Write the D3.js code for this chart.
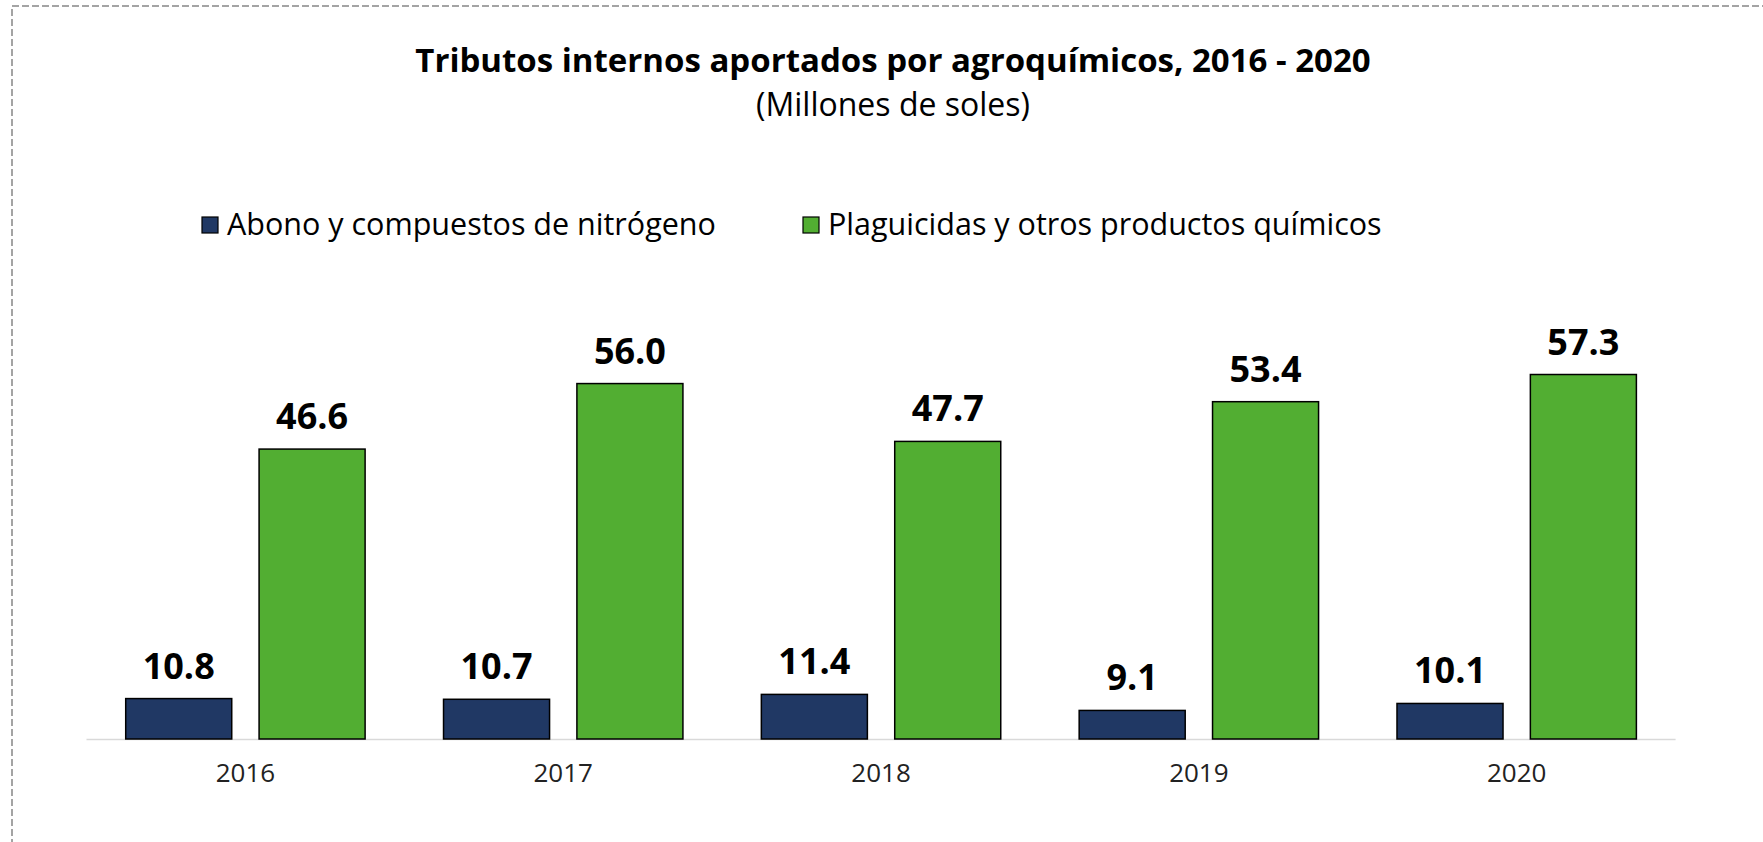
<!DOCTYPE html>
<html>
<head>
<meta charset="utf-8">
<script src="https://cdn.jsdelivr.net/npm/d3@7"></script>
<style>
  body { margin: 0; background: #fff; }
  text { font-family: "Open Sans", "Noto Sans", sans-serif; }
</style>
</head>
<body>
<script>
// data
var years = ["2016", "2017", "2018", "2019", "2020"];
var abono = [10.8, 10.7, 11.4, 9.1, 10.1];
var plaguicidas = [46.6, 56.0, 47.7, 53.4, 57.3];
var seriesNames = ["Abono y compuestos de nitrógeno", "Plaguicidas y otros productos químicos"];
var colors = ["#203864", "#52ae32"];

var width = 1763, height = 842;
var baseY = 739;

var svg = d3.select("body").append("svg")
  .attr("width", width)
  .attr("height", height);

// dashed frame (right and bottom edges fall outside the picture)
svg.append("rect")
  .attr("x", 12).attr("y", 6)
  .attr("width", 1770).attr("height", 860)
  .attr("fill", "none")
  .attr("stroke", "#868686")
  .attr("stroke-width", 1.5)
  .attr("stroke-dasharray", "7,3");

// title
svg.append("text")
  .attr("x", 893).attr("y", 72)
  .attr("text-anchor", "middle")
  .style("font-size", "33px")
  .style("font-weight", "bold")
  .text("Tributos internos aportados por agroquímicos, 2016 - 2020");

svg.append("text")
  .attr("x", 893).attr("y", 116)
  .attr("text-anchor", "middle")
  .style("font-size", "32px")
  .text("(Millones de soles)");

var data = years.map(function(y, i) {
  return {year: y, values: [abono[i], plaguicidas[i]]};
});

var x0 = d3.scaleBand().domain(years).range([86.5, 1675.6]);
var x1 = d3.scaleBand().domain([0, 1]).range([0, x0.bandwidth()])
  .paddingInner(0.205).paddingOuter(0.294);
var y = d3.scaleLinear().domain([5, 70]).range([baseY, 286]);

// legend
var legendX = [202, 803];
var legend = svg.selectAll(".legend")
  .data(seriesNames)
  .enter()
  .append("g")
  .attr("class", "legend")
  .attr("transform", function(d, i) { return "translate(" + legendX[i] + ",217)"; });

legend.append("rect")
  .attr("width", 16).attr("height", 16)
  .attr("fill", function(d, i) { return colors[i]; })
  .attr("stroke", "#000")
  .attr("stroke-width", 1.2);

legend.append("text")
  .attr("x", 25).attr("y", 18)
  .style("font-size", "30.5px")
  .text(function(d) { return d; });

// baseline
svg.append("line")
  .attr("x1", x0.range()[0]).attr("x2", x0.range()[1])
  .attr("y1", baseY + 0.5).attr("y2", baseY + 0.5)
  .attr("stroke", "#d9d9d9")
  .attr("stroke-width", 1.5);

var groups = svg.selectAll(".group")
  .data(data)
  .enter()
  .append("g")
  .attr("class", "group")
  .attr("transform", function(d) { return "translate(" + x0(d.year) + ",0)"; });

groups.selectAll("rect")
  .data(function(d) { return d.values; })
  .enter()
  .append("rect")
  .attr("x", function(d, i) { return x1(i); })
  .attr("y", function(d) { return y(d); })
  .attr("width", x1.bandwidth())
  .attr("height", function(d) { return baseY - y(d); })
  .attr("fill", function(d, i) { return colors[i]; })
  .attr("stroke", "#000")
  .attr("stroke-width", 1.5);

groups.selectAll(".val")
  .data(function(d) { return d.values; })
  .enter()
  .append("text")
  .attr("class", "val")
  .attr("x", function(d, i) { return x1(i) + x1.bandwidth() / 2; })
  .attr("y", function(d) { return y(d) - 20; })
  .attr("text-anchor", "middle")
  .style("font-size", "36px")
  .style("font-weight", "bold")
  .text(function(d) { return d3.format(".1f")(d); });

// year labels
svg.selectAll(".year")
  .data(years)
  .enter()
  .append("text")
  .attr("class", "year")
  .attr("x", function(d) { return x0(d) + x0.bandwidth() / 2; })
  .attr("y", 782)
  .attr("text-anchor", "middle")
  .style("font-size", "26px")
  .attr("fill", "#222")
  .text(function(d) { return d; });
</script>
</body>
</html>
